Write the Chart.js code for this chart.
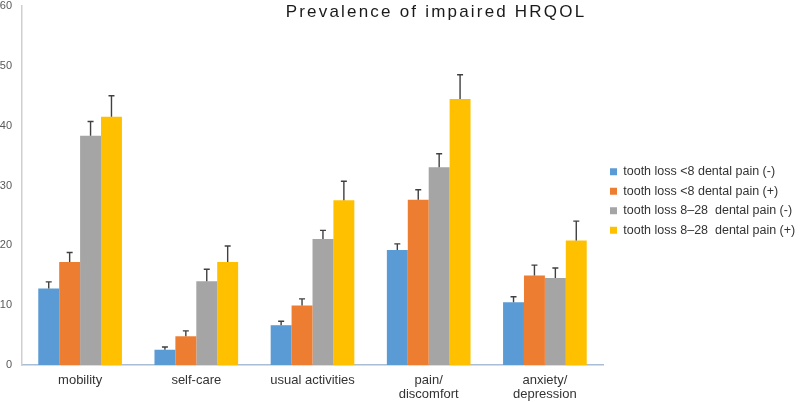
<!DOCTYPE html>
<html>
<head>
<meta charset="utf-8">
<script src="https://cdn.jsdelivr.net/npm/chart.js@4"></script>
<style>
    html, body { margin: 0; padding: 0; background: #ffffff; }
    #wrap { width: 800px; height: 402px; }
</style>
</head>
<body>
<div id="wrap"><canvas id="hrqol-chart"></canvas></div>
<script>
const categories = ['mobility', 'self-care', 'usual activities', ['pain/', 'discomfort'], ['anxiety/', 'depression']];
const seriesNames = [
    'tooth loss <8 dental pain (-)',
    'tooth loss <8 dental pain (+)',
    'tooth loss 8\u201328  dental pain (-)',
    'tooth loss 8\u201328  dental pain (+)'
];
const seriesColors = ['#5B9BD5', '#ED7D31', '#A5A5A5', '#FFC000'];

// prevalence (%)
const lossLt8PainNeg = [12.8, 2.55, 6.65, 19.2, 10.5];
const lossLt8PainPos = [17.2, 4.8, 9.95, 27.6, 14.95];
const loss8to28PainNeg = [38.3, 14.0, 21.05, 33.05, 14.55];
const loss8to28PainPos = [41.5, 17.2, 27.55, 44.45, 20.8];

// upper error (%)
const errLt8PainNeg = [1.1, 0.45, 0.65, 1.05, 0.9];
const errLt8PainPos = [1.6, 0.9, 1.1, 1.7, 1.75];
const err8to28PainNeg = [2.4, 2.0, 1.45, 2.25, 1.65];
const err8to28PainPos = [3.5, 2.7, 3.15, 4.05, 3.25];

const yTicks = [0, 10, 20, 30, 40, 50, 60];

const seriesValues = [lossLt8PainNeg, lossLt8PainPos, loss8to28PainNeg, loss8to28PainPos];
const seriesErrors = [errLt8PainNeg, errLt8PainPos, err8to28PainNeg, err8to28PainPos];

const FONT = '"Liberation Sans", Arial, sans-serif';

const errorBarPlugin = {
    id: 'errorBars',
    afterDatasetsDraw(chart) {
        const ctx = chart.ctx;
        const yScale = chart.scales.y;
        ctx.save();
        ctx.strokeStyle = '#404040';
        ctx.lineWidth = 1.4;
        chart.data.datasets.forEach((dataset, i) => {
            const meta = chart.getDatasetMeta(i);
            meta.data.forEach((bar, j) => {
                const value = dataset.data[j];
                const yTop = yScale.getPixelForValue(value + seriesErrors[i][j]);
                const yBase = yScale.getPixelForValue(value);
                ctx.beginPath();
                ctx.moveTo(bar.x, yBase);
                ctx.lineTo(bar.x, yTop);
                ctx.moveTo(bar.x - 3, yTop);
                ctx.lineTo(bar.x + 3, yTop);
                ctx.stroke();
            });
        });
        ctx.restore();
    }
};

// title sits over the top of the plot, so it is drawn here instead of taking layout room
const titlePlugin = {
    id: 'floatingTitle',
    afterDraw(chart) {
        const ctx = chart.ctx;
        ctx.save();
        ctx.font = '17px ' + FONT;
        ctx.letterSpacing = '2.2px';
        ctx.fillStyle = '#1a1a1a';
        ctx.textAlign = 'center';
        ctx.textBaseline = 'alphabetic';
        ctx.fillText('Prevalence of impaired HRQOL', 436, 17);
        ctx.restore();
    }
};

new Chart(document.getElementById('hrqol-chart'), {
    type: 'bar',
    data: {
        labels: categories,
        datasets: seriesValues.map((values, i) => ({
            label: seriesNames[i],
            data: values,
            backgroundColor: seriesColors[i],
            borderWidth: 0,
            categoryPercentage: 0.72,
            barPercentage: 1.0
        }))
    },
    options: {
        responsive: true,
        maintainAspectRatio: false,
        animation: false,
        layout: {
            padding: {top: 0, right: -4, bottom: 0, left: 0}
        },
        plugins: {
            title: {display: false},
            tooltip: {enabled: false},
            legend: {
                position: 'right',
                align: 'center',
                labels: {
                    boxWidth: 7,
                    boxHeight: 7,
                    padding: 7,
                    color: '#333333',
                    font: {family: FONT, size: 12.5}
                }
            }
        },
        scales: {
            x: {
                grid: {display: false, drawTicks: false},
                border: {display: true, color: '#A9BED4', width: 1.5},
                afterFit: (scale) => {
                    scale.height = 37;
                },
                ticks: {
                    color: '#333333',
                    padding: 8,
                    maxRotation: 0,
                    autoSkip: false,
                    font: {family: FONT, size: 13, lineHeight: 1.1}
                }
            },
            y: {
                min: 0,
                max: 60,
                afterBuildTicks: (scale) => {
                    scale.ticks = yTicks.map(v => ({value: v}));
                },
                afterFit: (scale) => {
                    scale.width = 22;
                    scale.paddingTop = 6;
                },
                grid: {display: false, drawTicks: false},
                border: {display: true, color: '#CFCFCF', width: 1.5},
                ticks: {
                    color: '#595959',
                    padding: 10,
                    font: {family: FONT, size: 11}
                }
            }
        }
    },
    plugins: [errorBarPlugin, titlePlugin]
});
</script>
</body>
</html>
